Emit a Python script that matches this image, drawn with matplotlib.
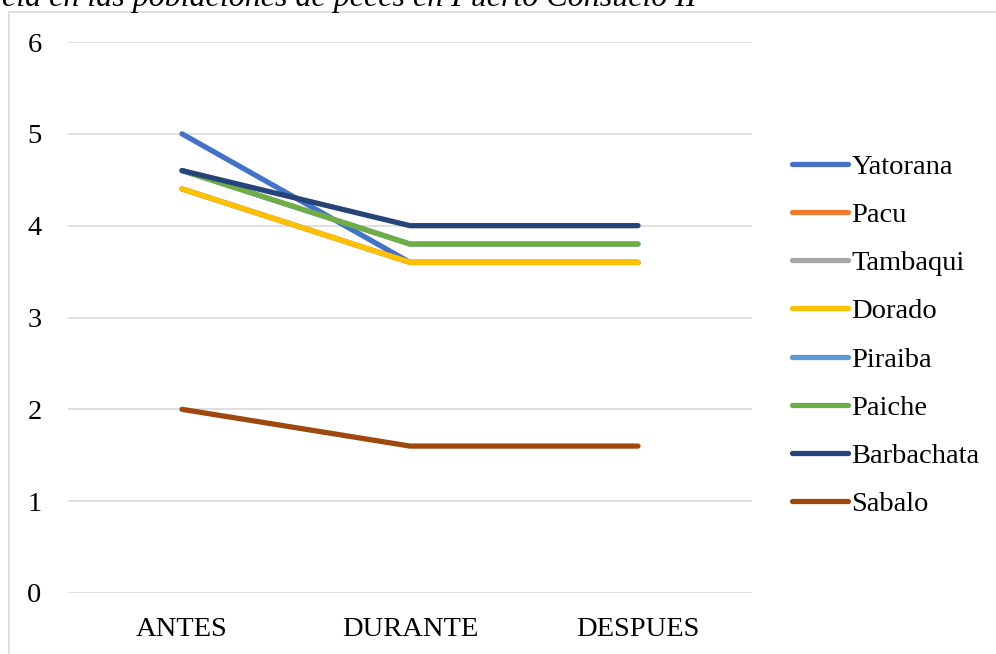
import matplotlib.pyplot as plt
import matplotlib.patches as patches

# categories and series
periods = ["ANTES", "DURANTE", "DESPUES"]
species = ["Yatorana", "Pacu", "Tambaqui", "Dorado", "Piraiba", "Paiche", "Barbachata", "Sabalo"]
yatorana = [5.0, 3.6, 3.6]
pacu = [4.4, 3.6, 3.6]
tambaqui = [4.4, 3.6, 3.6]
dorado = [4.4, 3.6, 3.6]
piraiba = [4.6, 3.8, 3.8]
paiche = [4.6, 3.8, 3.8]
barbachata = [4.6, 4.0, 4.0]
sabalo = [2.0, 1.6, 1.6]
series = [yatorana, pacu, tambaqui, dorado, piraiba, paiche, barbachata, sabalo]
colors = ["#4472C4", "#ED7D31", "#A5A5A5", "#FFC000", "#5B9BD5", "#70AD47", "#264478", "#9E480E"]

plt.rcParams['font.family'] = ['Liberation Serif', 'DejaVu Serif']
fs = 20.5

fig = plt.figure(figsize=(9.96, 6.54), dpi=100)
W, H = 996, 654

# chart border (cropped on the right/bottom)
border = patches.Rectangle((8.5 / W, -0.1), 1.2, 1 - 11.5 / H + 0.1, transform=fig.transFigure,
                           fill=False, edgecolor='#d9d9d9', linewidth=1.2, clip_on=False)
fig.add_artist(border)

# title, cropped at the top like in the source image
fig.text(697 / W, 1 - 6 / H, "cia en las poblaciones de peces en Puerto Consuelo II",
         ha='right', va='baseline', fontsize=23, style='italic')

ax = fig.add_axes([68 / W, 1 - 593 / H, 684 / W, 551 / H])
x = list(range(len(periods)))
for name, vals, c in zip(species, series, colors):
    ax.plot(x, vals, color=c, linewidth=3.8, solid_capstyle='round', label=name)

ax.set_xlim(-0.5, 2.5)
ax.set_ylim(0, 6)
ax.set_yticks(range(0, 7))
ax.set_xticks(x)
ax.set_xticklabels(periods)
ax.grid(axis='y', color='#d9d9d9', linewidth=1.2)
ax.set_axisbelow(True)
for s in ax.spines.values():
    s.set_visible(False)
ax.tick_params(axis='both', length=0, labelsize=fs)
ax.tick_params(axis='y', pad=19)
ax.tick_params(axis='x', pad=17)

fig.legend(loc='center left', bbox_to_anchor=(792 / W, 1 - 335.5 / H), frameon=False,
           fontsize=fs, handlelength=1.95, handletextpad=0.14, labelspacing=0.78,
           borderpad=0, borderaxespad=0)

fig.savefig("out.png", dpi=100)
